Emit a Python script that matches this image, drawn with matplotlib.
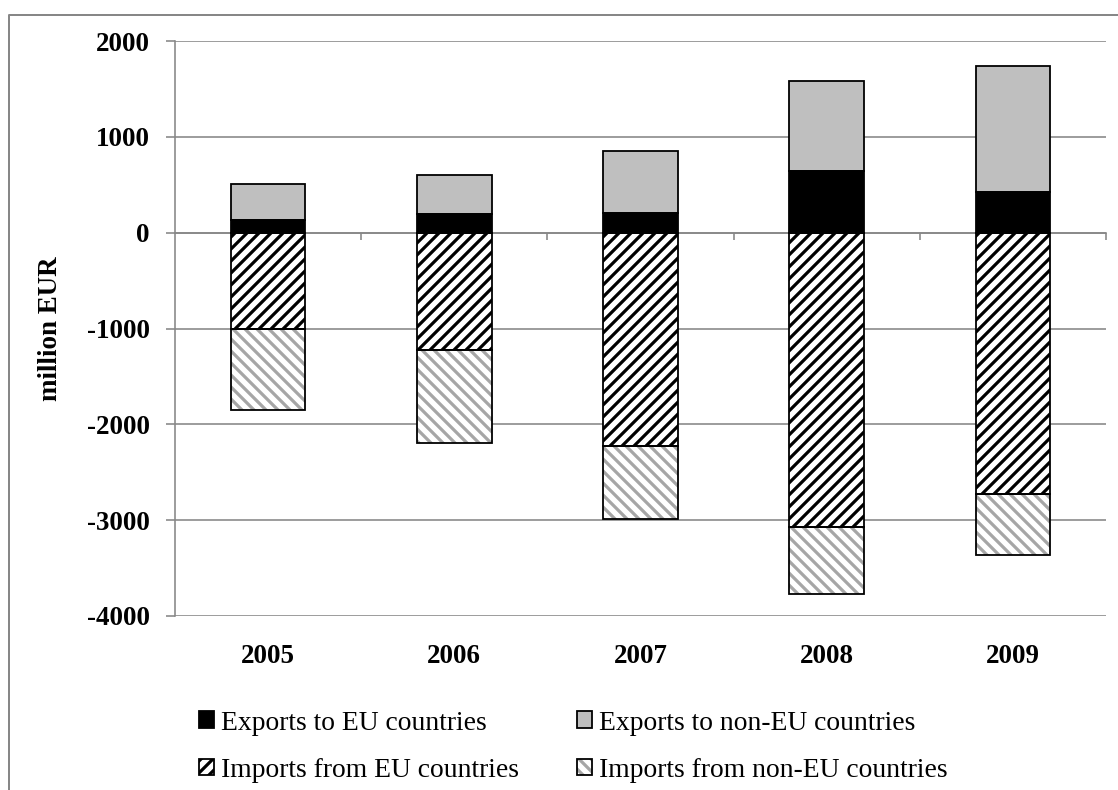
import numpy as np
import matplotlib
matplotlib.use("Agg")
import matplotlib.pyplot as plt
import matplotlib.transforms as mtransforms
from matplotlib.lines import Line2D

# values (million EUR)
years = ["2005", "2006", "2007", "2008", "2009"]
exp_eu = [130, 200, 205, 640, 420]
exp_noneu = [380, 400, 645, 940, 1320]
imp_eu = [-1000, -1220, -2230, -3070, -2730]
imp_noneu = [-850, -980, -760, -700, -630]
labels = ["Exports to EU countries", "Exports to non-EU countries",
          "Imports from EU countries", "Imports from non-EU countries"]
yticks = [-4000, -3000, -2000, -1000, 0, 1000, 2000]

plt.rcParams["font.family"] = ["Liberation Serif", "DejaVu Serif"]
plt.rcParams["hatch.linewidth"] = 1.6

gridc = "#878787"
DPI = 144
fig = plt.figure(figsize=(1118 / DPI, 790 / DPI), dpi=DPI)
ax = fig.add_axes([0.1565, 0.2203, 0.9893 - 0.1565, 0.948 - 0.2203])

x = np.arange(len(years))
w = 0.4
exp_eu = np.array(exp_eu)
imp_eu = np.array(imp_eu)


def stacked(vals, bottom, face, hatch=None, hcol=None):
    if hatch:
        fill = ax.bar(x, vals, w, bottom=bottom, color="white", edgecolor=hcol,
                      hatch=hatch, linewidth=0, zorder=2)
    else:
        fill = ax.bar(x, vals, w, bottom=bottom, color=face, linewidth=0, zorder=2)
    edge = ax.bar(x, vals, w, bottom=bottom, fill=False, edgecolor="black",
                  linewidth=0.9, zorder=3)
    return (fill[0], edge[0])


h1 = stacked(exp_eu, 0, "black")
h2 = stacked(exp_noneu, exp_eu, "#BFBFBF")
h3 = stacked(imp_eu, 0, "white", hatch="////", hcol="black")
h4 = stacked(imp_noneu, imp_eu, "white", hatch="\\\\\\\\", hcol="#A6A6A6")

ax.set_xlim(-0.5, len(years) - 0.5)
ax.set_ylim(yticks[0], yticks[-1])
ax.set_yticks(yticks)
ax.set_yticklabels([str(v) for v in yticks], fontsize=13.5, fontweight="bold")
ax.tick_params(axis="y", length=4.5, width=0.8, color=gridc, pad=8)
ax.yaxis.grid(True, color=gridc, linewidth=0.8)
ax.set_axisbelow(True)

for s in ["top", "right"]:
    ax.spines[s].set_visible(False)
ax.spines["left"].set_color(gridc)
ax.spines["left"].set_linewidth(0.8)
ax.spines["bottom"].set_position(("data", 0))
ax.spines["bottom"].set_color(gridc)
ax.spines["bottom"].set_linewidth(0.8)
ax.set_xticks(np.arange(0.5, len(years), 1))
ax.tick_params(axis="x", length=3.5, width=0.8, color=gridc, labelbottom=False)

trans = mtransforms.blended_transform_factory(ax.transData, ax.transAxes)
for i, yr in enumerate(years):
    ax.text(i, -0.0713, yr, transform=trans, ha="center", va="center",
            fontsize=13.5, fontweight="bold")

ax.set_ylabel("million EUR", fontsize=13.5, fontweight="bold", labelpad=12)

# legend is filled column by column, so order handles to read row-wise
fig.legend([h1, h3, h2, h4], [labels[0], labels[2], labels[1], labels[3]],
           loc="center", bbox_to_anchor=(0.513, 0.055),
           ncol=2, frameon=False, fontsize=13.8, handlelength=0.55, handleheight=0.55,
           handletextpad=0.25, columnspacing=2.1, labelspacing=0.8)

# chart border (open on the right and bottom, as cropped in the source)
fig.add_artist(Line2D([9 / 1118, 9 / 1118, 1.0], [0.0, 1 - 15 / 790, 1 - 15 / 790],
                      transform=fig.transFigure, color=gridc, linewidth=1.0))

fig.savefig("out.png", dpi=DPI)
